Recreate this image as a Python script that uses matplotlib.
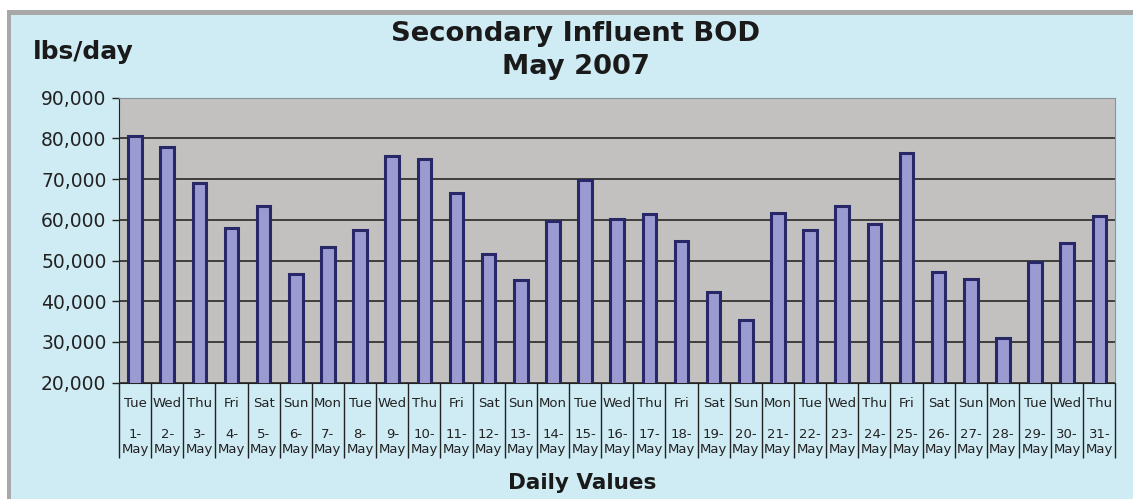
import matplotlib.pyplot as plt
from matplotlib.patches import Rectangle
from matplotlib.ticker import FuncFormatter

days = ["Tue", "Wed", "Thu", "Fri", "Sat", "Sun", "Mon"] * 5
days = days[:31]
dates = [f"{d}-" for d in range(1, 32)]
bod = [80600, 77800, 69000, 57900, 63300, 46800, 53400, 57500, 75700, 74900,
       66500, 51600, 45200, 59700, 69700, 60200, 61500, 54900, 42200, 35500,
       61700, 57500, 63400, 58900, 76300, 47200, 45500, 30900, 49600, 54200,
       60900]

bg = "#cfebf4"
fig = plt.figure(figsize=(11.33, 4.99), dpi=100, facecolor="white")
# gray frame + light blue panel
fig.patches.append(Rectangle((0.006, 0), 0.994, 0.98, transform=fig.transFigure,
                             facecolor="#a8a8a8", edgecolor="none", zorder=-2))
fig.patches.append(Rectangle((0.0097, 0), 0.9903, 0.97, transform=fig.transFigure,
                             facecolor=bg, edgecolor="none", zorder=-1))

ax = fig.add_axes([0.105, 0.233, 0.8795, 0.5715])
ax.set_facecolor("#c2c1bf")
x = list(range(len(bod)))
ax.bar(x, bod, width=0.42, color="#9b9bd2", edgecolor="#282868", linewidth=2.2, zorder=3)

ax.set_ylim(20000, 90000)
ax.set_xlim(-0.5, 30.5)
ax.set_yticks(range(20000, 90001, 10000))
ax.yaxis.set_major_formatter(FuncFormatter(lambda v, p: f"{int(v):,}"))
ax.grid(axis="y", color="#1a1a1a", linewidth=1.1, zorder=1)
ax.tick_params(axis="y", labelsize=13.5, length=5, width=1, colors="#222222", pad=4)

# category separators as long major ticks, labels on minor ticks
ax.set_xticks([i + 0.5 for i in range(-1, 31)])
ax.set_xticklabels([])
ax.tick_params(axis="x", which="major", length=54, width=1, color="#222222")
ax.set_xticks(x, minor=True)
ax.set_xticklabels([f"{d}\n\n{n}\nMay" for d, n in zip(days, dates)], minor=True,
                   family=["Liberation Sans Narrow", "DejaVu Sans"], fontsize=9.5,
                   linespacing=1.25, color="#222222")
ax.tick_params(axis="x", which="minor", length=0, pad=10)

for side in ["top", "right"]:
    ax.spines[side].set_color("#8a9294")
ax.spines["left"].set_color("#222222")
ax.spines["bottom"].set_color("#222222")

fig.text(0.508, 0.958, "Secondary Influent BOD\nMay 2007", ha="center", va="top",
         fontsize=19.7, fontweight="bold", color="#1a1a1a", linespacing=1.33)
fig.text(0.029, 0.895, "lbs/day", ha="left", va="center", fontsize=18,
         fontweight="bold", color="#1a1a1a")
fig.text(0.514, 0.032, "Daily Values", ha="center", va="center", fontsize=15.5,
         fontweight="bold", color="#1a1a1a")

fig.savefig("out.png", dpi=100)
